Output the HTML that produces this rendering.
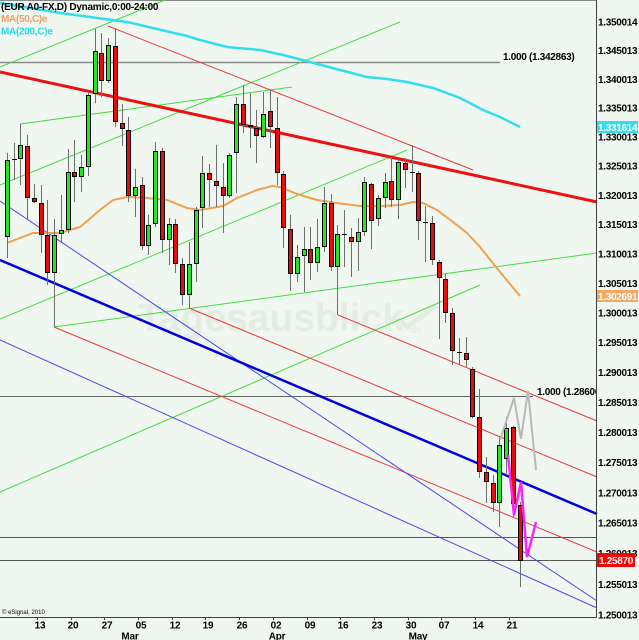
<!DOCTYPE html>
<html><head><meta charset="utf-8"><style>
html,body{margin:0;padding:0;background:#f0f7f0;}
svg{display:block;}
text{font-family:"Liberation Sans",Arial,sans-serif;}
.ax{font-size:10px;font-weight:bold;fill:#000;letter-spacing:-0.3px;}
.dt{font-size:10px;font-weight:bold;fill:#000;text-anchor:middle;letter-spacing:-0.2px;}
.g{fill:#22e622;stroke:#000;stroke-width:1}
.r{fill:#e80c0c;stroke:#000;stroke-width:1}
</style></head><body>
<svg width="639" height="640" viewBox="0 0 639 640" xmlns="http://www.w3.org/2000/svg">
<rect x="0" y="0" width="639" height="640" fill="#f0f7f0"/>
<!-- watermark -->
<text x="138" y="331" font-size="39" font-weight="bold" fill="#e4ede4">Tagesausblick</text>
<text x="410" y="333" font-size="10" font-weight="bold" fill="#e4ede4">de</text>
<polyline points="398,318 407,327 436,306" fill="none" stroke="#e4ede4" stroke-width="5"/>

<!-- frame -->
<line x1="0" y1="0.5" x2="597" y2="0.5" stroke="#888" stroke-width="1"/>

<!-- horizontal fib lines -->
<line x1="0" y1="62.5" x2="500" y2="62.5" stroke="#8a8a8a" stroke-width="1.5"/>
<line x1="0" y1="396.5" x2="533" y2="396.5" stroke="#666" stroke-width="1"/>
<line x1="0" y1="537.5" x2="597" y2="537.5" stroke="#555" stroke-width="1"/>
<line x1="0" y1="560.5" x2="597" y2="560.5" stroke="#555" stroke-width="1"/>

<!-- thin green lines -->
<g stroke="#44dd44" stroke-width="1" fill="none">
<line x1="0" y1="67" x2="165" y2="0"/>
<line x1="0" y1="185" x2="400" y2="22"/>
<line x1="20" y1="124" x2="292" y2="87"/>
<line x1="0" y1="319" x2="407" y2="150"/>
<line x1="54" y1="327" x2="597" y2="253"/>
<line x1="0" y1="492" x2="480" y2="285"/>
</g>
<!-- thin red lines -->
<g stroke="#ee3a3a" stroke-width="1" fill="none">
<line x1="108" y1="26" x2="473" y2="170"/>
<line x1="338" y1="315" x2="597" y2="421"/>
<line x1="189" y1="308" x2="597" y2="477"/>
<line x1="54" y1="327" x2="597" y2="552"/>
</g>
<!-- thin blue lines -->
<g stroke="#4a4aee" stroke-width="1" fill="none">
<line x1="0" y1="201" x2="597" y2="601"/>
<line x1="0" y1="340" x2="597" y2="608"/>
</g>
<!-- thick lines -->
<line x1="0" y1="72" x2="597" y2="202" stroke="#ee1111" stroke-width="3"/>
<line x1="0" y1="260" x2="597" y2="514" stroke="#0000e0" stroke-width="2.5"/>

<!-- MAs -->
<polyline fill="none" stroke="#33ddee" stroke-width="2.5" points="0,3 60,13 127,22 187,36 200,40 227,47 260,50 283,55 310,62 340,70 367,77 387,79 407,82 433,88 460,98 483,110 500,117 520,127"/>
<polyline fill="none" stroke="#f0a050" stroke-width="2" points="7,243 33,233 60,233 80,227 100,210 113,200 127,197 147,198 167,200 187,208 200,210 223,206 237,198 257,190 272,186 280,187 297,194 317,200 337,203 360,206 380,206 400,205 413,202 423,203 437,210 453,222 467,233 480,247 500,272 520,296"/>

<!-- wicks -->
<path fill="none" stroke="#6e6e6e" stroke-width="1" d="M7.5 153V258M14.5 143V180M20.5 124V185M27.5 135V220M34.5 184V203M41.5 185V253M47.5 200V285M54.5 219V327M61.5 195V243M68.5 149V233M74.5 140V202M81.5 155V192M88.5 92V176M95.5 29V103M101.5 33V97M108.5 38V83M115.5 29V127M122.5 104V146M128.5 117V202M135.5 169V217M142.5 177V250M148.5 215V255M155.5 142V227M162.5 148V253M169.5 218V265M175.5 219V273M182.5 258V305M189.5 242V308M196.5 207V282M202.5 156V228M209.5 164V207M216.5 145V207M223.5 163V233M229.5 153V198M236.5 97V193M243.5 85V133M250.5 93V148M256.5 110V163M263.5 92V138M270.5 90V148M277.5 97V185M283.5 171V248M290.5 215V291M297.5 245V282M304.5 227V292M310.5 227V280M317.5 219V272M324.5 187V252M331.5 194V271M337.5 225V315M344.5 210V267M351.5 228V277M358.5 218V271M364.5 177V236M371.5 183V249M378.5 195V226M385.5 173V208M391.5 157V207M398.5 159V219M405.5 158V188M412.5 145V192M418.5 171V240M425.5 206V262M432.5 216V265M439.5 260V339M445.5 274V323M452.5 308V365M459.5 338V365M466.5 337V368M472.5 367V418M479.5 389V478M486.5 457V503M493.5 475V512M499.5 436V527M506.5 417V475M513.5 426V517M520.5 502V587"/>
<!-- dojis -->
<path fill="none" stroke="#000" stroke-width="1" d="M12 159.5H17M342 234.5H347M410 172.5H415M423 222.5H428M457 352.5H462"/>
<!-- bodies -->
<rect class="g" x="5.5" y="160.5" width="4" height="76"/>
<rect class="g" x="18.5" y="145.5" width="4" height="13"/>
<rect class="r" x="25.5" y="146.5" width="4" height="51"/>
<rect class="r" x="32.5" y="198.5" width="4" height="3"/>
<rect class="r" x="39.5" y="203.5" width="4" height="31"/>
<rect class="r" x="45.5" y="235.5" width="4" height="37"/>
<rect class="g" x="52.5" y="235.5" width="4" height="37"/>
<rect class="g" x="59.5" y="230.5" width="4" height="3"/>
<rect class="g" x="66.5" y="172.5" width="4" height="57"/>
<rect class="r" x="72.5" y="172.5" width="4" height="4"/>
<rect class="g" x="79.5" y="167.5" width="4" height="9"/>
<rect class="g" x="86.5" y="95.5" width="4" height="71"/>
<rect class="g" x="93.5" y="51.5" width="4" height="42"/>
<rect class="r" x="99.5" y="53.5" width="4" height="27"/>
<rect class="g" x="106.5" y="45.5" width="4" height="35"/>
<rect class="r" x="113.5" y="46.5" width="4" height="75"/>
<rect class="r" x="120.5" y="123.5" width="4" height="5"/>
<rect class="r" x="126.5" y="130.5" width="4" height="65"/>
<rect class="g" x="133.5" y="187.5" width="4" height="8"/>
<rect class="r" x="140.5" y="185.5" width="4" height="60"/>
<rect class="g" x="146.5" y="225.5" width="4" height="20"/>
<rect class="g" x="153.5" y="151.5" width="4" height="72"/>
<rect class="r" x="160.5" y="151.5" width="4" height="88"/>
<rect class="g" x="167.5" y="224.5" width="4" height="15"/>
<rect class="r" x="173.5" y="224.5" width="4" height="39"/>
<rect class="r" x="180.5" y="264.5" width="4" height="30"/>
<rect class="g" x="187.5" y="264.5" width="4" height="30"/>
<rect class="g" x="194.5" y="210.5" width="4" height="53"/>
<rect class="g" x="200.5" y="173.5" width="4" height="34"/>
<rect class="r" x="207.5" y="173.5" width="4" height="6"/>
<rect class="r" x="214.5" y="181.5" width="4" height="4"/>
<rect class="r" x="221.5" y="187.5" width="4" height="8"/>
<rect class="g" x="227.5" y="155.5" width="4" height="40"/>
<rect class="g" x="234.5" y="104.5" width="4" height="48"/>
<rect class="r" x="241.5" y="104.5" width="4" height="20"/>
<rect class="r" x="248.5" y="125.5" width="4" height="1"/>
<rect class="r" x="254.5" y="128.5" width="4" height="7"/>
<rect class="g" x="261.5" y="114.5" width="4" height="22"/>
<rect class="r" x="268.5" y="111.5" width="4" height="15"/>
<rect class="r" x="275.5" y="128.5" width="4" height="44"/>
<rect class="r" x="281.5" y="174.5" width="4" height="53"/>
<rect class="r" x="288.5" y="229.5" width="4" height="44"/>
<rect class="g" x="295.5" y="257.5" width="4" height="16"/>
<rect class="g" x="302.5" y="249.5" width="4" height="6"/>
<rect class="r" x="308.5" y="249.5" width="4" height="13"/>
<rect class="g" x="315.5" y="247.5" width="4" height="15"/>
<rect class="g" x="322.5" y="203.5" width="4" height="43"/>
<rect class="r" x="329.5" y="203.5" width="4" height="63"/>
<rect class="g" x="335.5" y="234.5" width="4" height="32"/>
<rect class="r" x="349.5" y="237.5" width="4" height="4"/>
<rect class="g" x="356.5" y="232.5" width="4" height="9"/>
<rect class="g" x="362.5" y="182.5" width="4" height="49"/>
<rect class="r" x="369.5" y="184.5" width="4" height="36"/>
<rect class="g" x="376.5" y="198.5" width="4" height="20"/>
<rect class="g" x="383.5" y="182.5" width="4" height="15"/>
<rect class="r" x="389.5" y="181.5" width="4" height="18"/>
<rect class="g" x="396.5" y="162.5" width="4" height="37"/>
<rect class="r" x="403.5" y="163.5" width="4" height="6"/>
<rect class="r" x="416.5" y="173.5" width="4" height="47"/>
<rect class="r" x="430.5" y="223.5" width="4" height="36"/>
<rect class="r" x="437.5" y="262.5" width="4" height="15"/>
<rect class="r" x="443.5" y="279.5" width="4" height="33"/>
<rect class="r" x="450.5" y="313.5" width="4" height="37"/>
<rect class="r" x="464.5" y="353.5" width="4" height="6"/>
<rect class="r" x="470.5" y="369.5" width="4" height="47"/>
<rect class="r" x="477.5" y="417.5" width="4" height="54"/>
<rect class="r" x="484.5" y="472.5" width="4" height="9"/>
<rect class="r" x="491.5" y="483.5" width="4" height="19"/>
<rect class="g" x="497.5" y="445.5" width="4" height="57"/>
<rect class="g" x="504.5" y="428.5" width="4" height="30"/>
<rect class="r" x="511.5" y="427.5" width="4" height="76"/>
<rect class="r" x="518.5" y="505.5" width="4" height="55"/>

<!-- projection patterns -->
<polyline fill="none" stroke="#b8b8b8" stroke-width="2" points="500,440 514,398 521,439 528,391 536,470"/>
<polyline fill="none" stroke="#ff22ff" stroke-width="2.5" points="508,455 514,515 521,482 527,557 536,522"/>

<!-- fib labels -->
<text class="ax" x="503" y="60">1.000 (1.342863)</text>
<svg x="0" y="0" width="596" height="640" overflow="hidden"><text class="ax" x="537" y="395">1.000 (1.28600</text></svg>

<!-- axes -->
<line x1="596.5" y1="0" x2="596.5" y2="617" stroke="#404040" stroke-width="1"/>
<line x1="0" y1="617.5" x2="597" y2="617.5" stroke="#404040" stroke-width="1"/>
<path stroke="#404040" stroke-width="1" d="M37.5 617V620M71.5 617V620M104.5 617V620M138.5 617V620M172.5 617V620M205.5 617V620M239.5 617V620M273.5 617V620M307.5 617V620M340.5 617V620M374.5 617V620M408.5 617V620M441.5 617V620M475.5 617V620M509.5 617V620"/>

<!-- price axis labels -->
<g class="ax">
<text x="598" y="25.6">1.350014</text>
<text x="598" y="54.2">1.345013</text>
<text x="598" y="82.9">1.340013</text>
<text x="598" y="111.7">1.335013</text>
<text x="598" y="140.6">1.330013</text>
<text x="598" y="169.6">1.325013</text>
<text x="598" y="198.8">1.320013</text>
<text x="598" y="228">1.315013</text>
<text x="598" y="257.4">1.310013</text>
<text x="598" y="286.8">1.305013</text>
<text x="598" y="316.4">1.300013</text>
<text x="598" y="346.1">1.295013</text>
<text x="598" y="375.9">1.290013</text>
<text x="598" y="405.8">1.285013</text>
<text x="598" y="435.9">1.280013</text>
<text x="598" y="466">1.275013</text>
<text x="598" y="496.3">1.270013</text>
<text x="598" y="526.7">1.265013</text>
<text x="598" y="557.2">1.260013</text>
<text x="598" y="587.8">1.255013</text>
<text x="598" y="618.6">1.250013</text>
</g>
<rect x="597" y="121" width="41" height="12" fill="#33ddee"/>
<text class="ax" x="598" y="130.8" style="fill:#fff">1.331614</text>
<rect x="597" y="290" width="41" height="12" fill="#f4a860"/>
<text class="ax" x="598" y="299.8" style="fill:#fff">1.302691</text>
<rect x="597" y="553" width="38" height="14" fill="#ff0000"/>
<text class="ax" x="599" y="564" style="fill:#fff">1.25870</text>

<!-- date labels -->
<g class="dt">
<text x="40" y="628.5">13</text>
<text x="73" y="628.5">20</text>
<text x="107" y="628.5">27</text>
<text x="141" y="628.5">05</text>
<text x="175" y="628.5">12</text>
<text x="208" y="628.5">19</text>
<text x="242" y="628.5">26</text>
<text x="276" y="628.5">02</text>
<text x="310" y="628.5">09</text>
<text x="343" y="628.5">16</text>
<text x="377" y="628.5">23</text>
<text x="411" y="628.5">30</text>
<text x="444" y="628.5">07</text>
<text x="478" y="628.5">14</text>
<text x="512" y="628.5">21</text>
<text x="130" y="639.5">Mar</text>
<text x="277" y="639.5">Apr</text>
<text x="418" y="639.5">May</text>
</g>

<!-- legend -->
<text x="1" y="10" font-size="10" font-weight="bold" fill="#000" letter-spacing="-0.25">(EUR A0-FX,D) Dynamic,0:00-24:00</text>
<text x="1" y="22" font-size="10" font-weight="bold" fill="#f0a060" letter-spacing="-0.3">MA(50,C)e</text>
<text x="1" y="34.5" font-size="10" font-weight="bold" fill="#22ddee" letter-spacing="-0.3">MA(200,C)e</text>
<text x="2" y="614" font-size="6" fill="#000">© eSignal, 2010</text>
</svg>
</body></html>
